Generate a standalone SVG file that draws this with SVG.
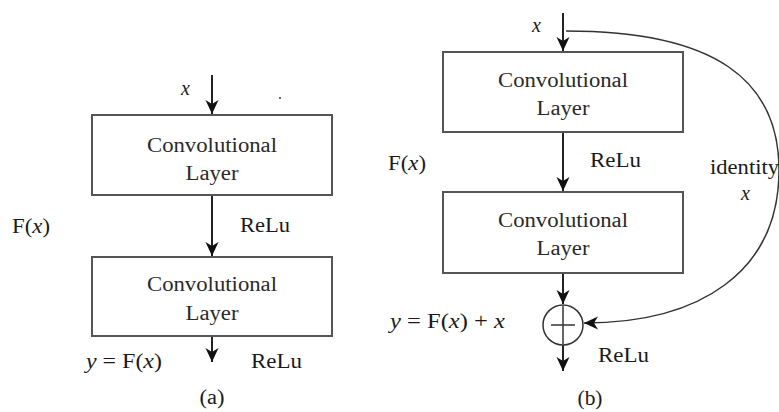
<svg xmlns="http://www.w3.org/2000/svg" width="779" height="412" viewBox="0 0 779 412">
<style>
.box{fill:#fff;stroke:#555;stroke-width:2}
.bt{font-family:"Liberation Serif",serif;font-size:20px;fill:#2a2a2a;text-anchor:middle}
.lb{font-family:"Liberation Serif",serif;font-size:20px;fill:#1a1a1a}
.it{font-style:italic}
.ln{fill:none;stroke:#222;stroke-width:2}
.cv{fill:none;stroke:#333;stroke-width:1.5}
</style>
<defs>
<marker id="ah" markerUnits="userSpaceOnUse" markerWidth="16" markerHeight="16" viewBox="0 0 16 16" refX="14" refY="8" orient="auto">
<path d="M0,1.5 L14,8 L0,14.5 L4,8 Z" fill="#111"/>
</marker>
</defs>
<rect width="779" height="412" fill="#fff"/>
<g id="connectors">
<line class="ln" x1="212" y1="75" x2="212" y2="114" marker-end="url(#ah)"/>
<line class="ln" x1="212" y1="195" x2="212" y2="256" marker-end="url(#ah)"/>
<line class="ln" x1="212" y1="336" x2="212" y2="362" marker-end="url(#ah)"/>
<line class="ln" x1="563" y1="13" x2="563" y2="51" marker-end="url(#ah)"/>
<line class="ln" x1="563" y1="132" x2="563" y2="191" marker-end="url(#ah)"/>
<line class="ln" x1="563" y1="273" x2="563" y2="304" marker-end="url(#ah)"/>
<line class="ln" x1="563" y1="345" x2="563" y2="371" marker-end="url(#ah)"/>
<path class="cv" d="M 566 31 C 715 31, 779 80, 779 170 C 779 272, 700 323, 584 323" marker-end="url(#ah)"/>
</g>
<g id="a-conv1">
<rect class="box" x="92" y="115" width="240" height="80"/>
<text class="bt" x="212" y="152" textLength="130" lengthAdjust="spacingAndGlyphs">Convolutional</text>
<text class="bt" x="212" y="180" textLength="53" lengthAdjust="spacingAndGlyphs">Layer</text>
</g>
<g id="a-conv2">
<rect class="box" x="92" y="257" width="240" height="79"/>
<text class="bt" x="212" y="291" textLength="130" lengthAdjust="spacingAndGlyphs">Convolutional</text>
<text class="bt" x="212" y="320" textLength="53" lengthAdjust="spacingAndGlyphs">Layer</text>
</g>
<g id="a-labels">
<text class="lb it" x="181" y="95">x</text>
<circle cx="280" cy="98" r="1" fill="#333"/>
<text class="lb" x="12" y="233" textLength="38" lengthAdjust="spacingAndGlyphs">F(<tspan class="it">x</tspan>)</text>
<text class="lb" x="240" y="232" textLength="50" lengthAdjust="spacingAndGlyphs">ReLu</text>
<text class="lb" x="86" y="368" textLength="76" lengthAdjust="spacingAndGlyphs"><tspan class="it">y</tspan> = F(<tspan class="it">x</tspan>)</text>
<text class="lb" x="251" y="368" textLength="51" lengthAdjust="spacingAndGlyphs">ReLu</text>
<text class="lb" x="212" y="404" text-anchor="middle" textLength="25" lengthAdjust="spacingAndGlyphs">(a)</text>
</g>
<g id="b-conv1">
<rect class="box" x="443" y="52" width="240" height="80"/>
<text class="bt" x="563" y="87" textLength="130" lengthAdjust="spacingAndGlyphs">Convolutional</text>
<text class="bt" x="563" y="115" textLength="53" lengthAdjust="spacingAndGlyphs">Layer</text>
</g>
<g id="b-conv2">
<rect class="box" x="443" y="192" width="240" height="81"/>
<text class="bt" x="563" y="227" textLength="130" lengthAdjust="spacingAndGlyphs">Convolutional</text>
<text class="bt" x="563" y="255" textLength="53" lengthAdjust="spacingAndGlyphs">Layer</text>
</g>
<g id="b-sum">
<circle cx="563" cy="325" r="20" fill="#fff" stroke="#333" stroke-width="1.5"/>
<line x1="563" y1="306" x2="563" y2="344" stroke="#333" stroke-width="1.5"/>
<line x1="551" y1="325" x2="575" y2="325" stroke="#333" stroke-width="1.5"/>
</g>
<g id="b-labels">
<text class="lb it" x="532" y="32">x</text>
<text class="lb" x="388" y="170" textLength="38" lengthAdjust="spacingAndGlyphs">F(<tspan class="it">x</tspan>)</text>
<text class="lb" x="590" y="167" textLength="51" lengthAdjust="spacingAndGlyphs">ReLu</text>
<text class="lb" x="710" y="174" textLength="69" lengthAdjust="spacingAndGlyphs">identity</text>
<text class="lb it" x="741" y="200">x</text>
<text class="lb" x="390" y="328" textLength="115" lengthAdjust="spacingAndGlyphs"><tspan class="it">y</tspan> = F(<tspan class="it">x</tspan>) + <tspan class="it">x</tspan></text>
<text class="lb" x="598" y="362" textLength="51" lengthAdjust="spacingAndGlyphs">ReLu</text>
<text class="lb" x="590" y="405" text-anchor="middle" textLength="25" lengthAdjust="spacingAndGlyphs">(b)</text>
</g>
</svg>
